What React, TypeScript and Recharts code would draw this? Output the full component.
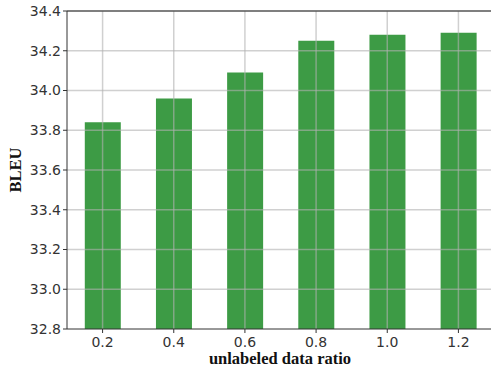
import {
  Bar,
  BarChart,
  Label,
  ReferenceLine,
  XAxis,
  YAxis,
} from "recharts";

const ratios = ["0.2", "0.4", "0.6", "0.8", "1.0", "1.2"];
const bleuScores = [33.84, 33.96, 34.09, 34.25, 34.28, 34.29];
const bleuTicks = [32.8, 33.0, 33.2, 33.4, 33.6, 33.8, 34.0, 34.2, 34.4];

const chartData = ratios.map((ratio, i) => ({
  ratio,
  bleu: bleuScores[i],
}));

const TICK_FONT = "'DejaVu Sans', sans-serif";
const LABEL_FONT = "'Liberation Serif', 'Times New Roman', serif";
const GRID = { stroke: "#b0b0b0", strokeOpacity: 0.6, strokeWidth: 1.5 };

export default function App() {
  return (
    <div
      style={{
        position: "absolute",
        left: 0,
        top: 0,
        width: 491,
        height: 369,
        overflow: "hidden",
        background: "#fff",
      }}
    >
      <BarChart
        width={494}
        height={369}
        data={chartData}
        margin={{ top: 11, right: 0, bottom: 0, left: 0 }}
        barCategoryGap="25%"
      >
        <XAxis
          dataKey="ratio"
          height={40}
          tickSize={4}
          tickMargin={4}
          stroke="#333"
          tick={{ fill: "#333", fontSize: 14, fontFamily: TICK_FONT }}
        >
          <Label
            content={() => (
              <text
                x={280}
                y={364}
                textAnchor="middle"
                fontFamily={LABEL_FONT}
                fontWeight="bold"
                fontSize={16.5}
                fill="#111"
              >
                unlabeled data ratio
              </text>
            )}
          />
        </XAxis>
        <YAxis
          width={67}
          domain={[32.8, 34.4]}
          ticks={bleuTicks}
          tickFormatter={(v: number) => v.toFixed(1)}
          tickSize={4}
          allowDataOverflow
          stroke="#333"
          tick={{ fill: "#333", fontSize: 14, fontFamily: TICK_FONT }}
        >
          <Label
            content={() => (
              <text
                x={20.5}
                y={170}
                transform="rotate(-90, 20.5, 170)"
                textAnchor="middle"
                fontFamily={LABEL_FONT}
                fontWeight="bold"
                fontSize={16.5}
                fill="#111"
              >
                BLEU
              </text>
            )}
          />
        </YAxis>
        <Bar dataKey="bleu" fill="#3d9b45" isAnimationActive={false} />
        {/* grid lines drawn after the bars so they show through them */}
        {ratios.map((r) => (
          <ReferenceLine key={`gx-${r}`} x={r} {...GRID} />
        ))}
        {bleuTicks.slice(1, -1).map((t) => (
          <ReferenceLine key={`gy-${t}`} y={t} {...GRID} />
        ))}
        <ReferenceLine y={34.4} stroke="#555" strokeWidth={1.5} />
      </BarChart>
    </div>
  );
}
